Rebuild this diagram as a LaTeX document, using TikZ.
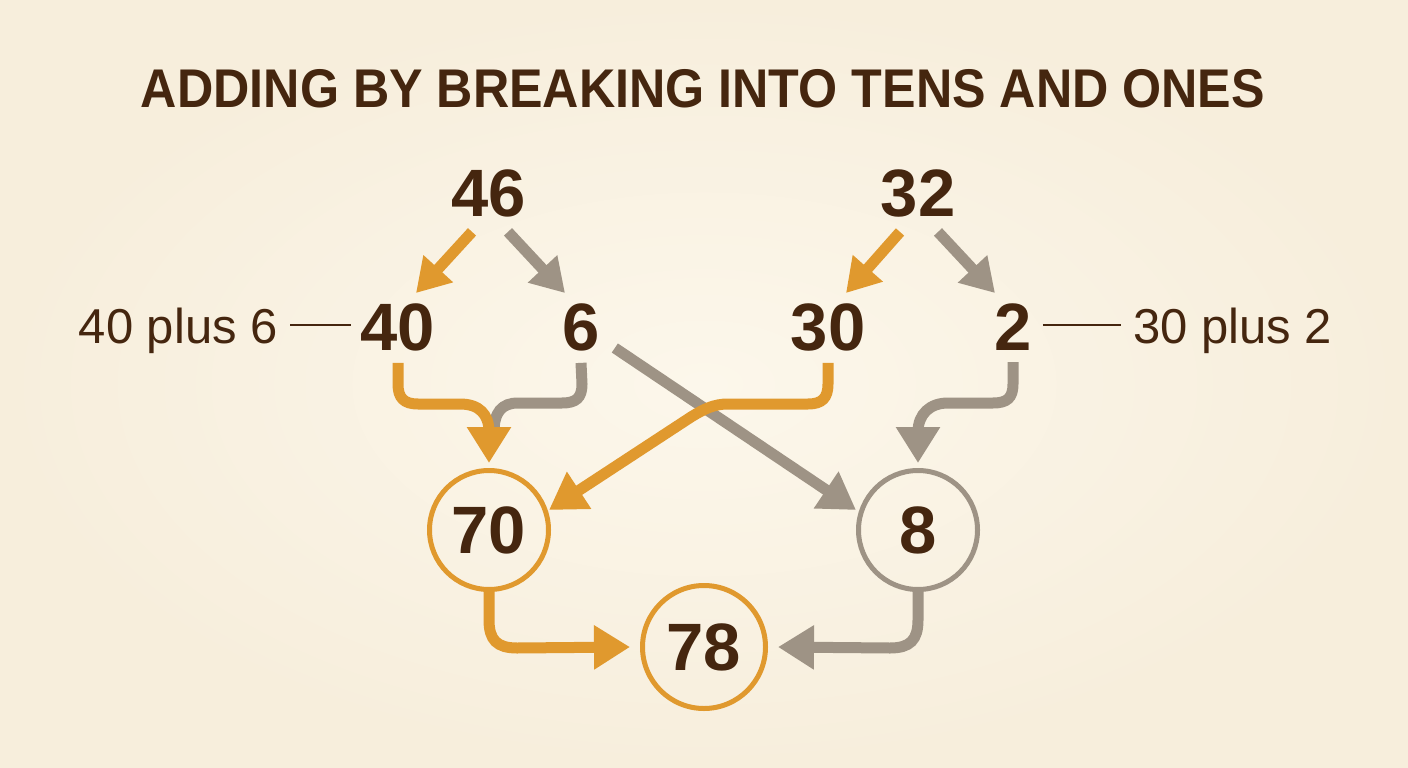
\documentclass[tikz,border=0pt]{standalone}
\usepackage{fontspec}
\setmainfont{Liberation Sans}
\usetikzlibrary{arrows.meta}
\definecolor{bgout}{HTML}{F7EEDC}
\definecolor{bgin}{HTML}{FCF7EB}
\definecolor{ink}{HTML}{45260F}
\definecolor{org}{HTML}{E0992E}
\definecolor{gry}{HTML}{9E9385}
\begin{document}
\begin{tikzpicture}[x=1pt,y=-1pt,
  num/.style={font=\fontsize{67}{67}\selectfont\bfseries, text=ink, inner sep=0pt, anchor=base},
  lbl/.style={font=\fontsize{49}{49}\selectfont, text=ink, inner sep=0pt},
  ring/.style={circle, line width=5pt, inner sep=0pt, font=\fontsize{67}{67}\selectfont\bfseries, text=ink},
  conn/.style={line width=11pt, -{Triangle[width=42pt,length=36pt]}},
  diag/.style={line width=11pt, -{Triangle[width=38pt,length=33pt]}},
  band/.style={line width=11pt},
  tick/.style={draw=ink, line width=1.5pt}
]
\shade[inner color=bgin, outer color=bgout] (0,0) rectangle (1408,768);
\useasboundingbox (0,0) rectangle (1408,768);

% title
\node[font=\fontsize{54.5}{54.5}\selectfont\bfseries, text=ink, inner sep=0pt, anchor=base] (title) at (703,107)
  {\scalebox{0.922}[1]{ADDING BY BREAKING INTO TENS AND ONES}};

% numbers
\node[num] (n46) at (489,216) {46};
\node[num] (n32) at (918,216) {32};
\node[num] (n40) at (398,350) {40};
\node[num] (n6) at (581,350) {6};
\node[num] (n30) at (828,350) {30};
\node[num] (n2) at (1013,350) {2};

% circles
\node[ring, draw=org, minimum size=119pt] (c70) at (489,530) {70};
\node[ring, draw=gry, minimum size=119pt] (c8) at (918,530) {8};
\node[ring, draw=org, minimum size=123pt] (c78) at (704,647) {78};

% side labels
\node[lbl, anchor=base east] (l1) at (278,343) {40 plus 6};
\node[lbl, anchor=base west] (l2) at (1133,343) {30 plus 2};
\draw[tick] ([shift={(12pt,18pt)}]l1.base east) -- ([shift={(-10pt,25pt)}]n40.base west);
\draw[tick] ([shift={(11pt,25pt)}]n2.base east) -- ([shift={(-12pt,18pt)}]l2.base west);

% splitting arrows
\draw[diag, org] ([shift={(-17pt,-15pt)}]n46.south) -- ([shift={(18pt,10pt)}]n40.north);
\draw[diag, gry] ([shift={(19pt,-15pt)}]n46.south) -- ([shift={(-16pt,10pt)}]n6.north);
\draw[diag, org] ([shift={(-18pt,-15pt)}]n32.south) -- ([shift={(18pt,10pt)}]n30.north);
\draw[diag, gry] ([shift={(20pt,-15pt)}]n32.south) -- ([shift={(-18pt,10pt)}]n2.north);

% 6 -> 8 (drawn first, under the orange crossing)
\draw[conn, gry] ([shift={(15pt,2pt)}]n6.base east) -- ([yshift=20pt]c8.west);

% 6 -> 70 (merging band)
\draw[band, gry] ([yshift=-12pt]n6.south) -- (582,384) .. controls (582,398) and (576,403) .. (562,403)
  -- (518,403) .. controls (502,403) and (494,412) .. (494,432);

% 40 -> 70
\draw[conn, org] ([yshift=-12pt]n40.south) -- (398,384) .. controls (398,398) and (404,404) .. (418,404)
  -- (460,404) .. controls (479,404) and (489,414) .. (489,432) -- ([yshift=5pt]c70.north);

% 30 -> 70
\draw[conn, org] ([yshift=-12pt]n30.south) -- (828,384) .. controls (828,398) and (822,404) .. (808,404)
  -- (728,404) .. controls (714,404) and (704,409) .. (691,417) -- ([shift={(-2pt,20pt)}]c70.east);

% 2 -> 8
\draw[conn, gry] ([yshift=-12pt]n2.south) -- (1013,384) .. controls (1013,398) and (1007,403) .. (993,403)
  -- (948,403) .. controls (930,403) and (918,414) .. (918,432) -- ([yshift=5pt]c8.north);

% 70 -> 78 and 8 -> 78
\draw[conn, org] (c70.south) -- (489,620) .. controls (489,640) and (497,648) .. (517,648)
  -- ([xshift=-10pt]c78.west);
\draw[conn, gry] (c8.south) -- (918,620) .. controls (918,640) and (910,648) .. (890,648)
  -- ([xshift=10pt]c78.east);
\end{tikzpicture}
\end{document}
